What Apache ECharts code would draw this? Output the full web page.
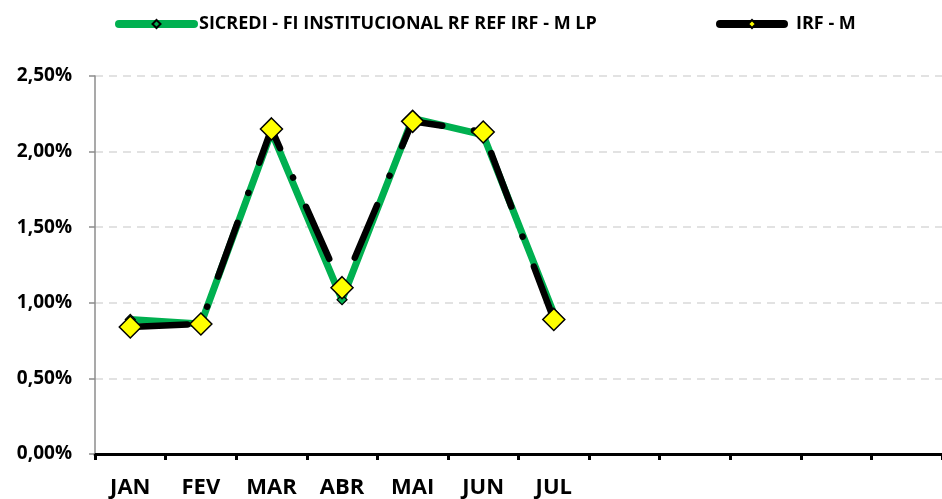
<!DOCTYPE html>
<html>
<head>
<meta charset="utf-8">
<script src="https://cdn.jsdelivr.net/npm/echarts@6/dist/echarts.min.js"></script>
<style>
  html, body { margin: 0; padding: 0; background: #ffffff; }
  #chart { width: 942px; height: 499px; }
</style>
</head>
<body>
<div id="chart"></div>
<script>
const months = ['JAN', 'FEV', 'MAR', 'ABR', 'MAI', 'JUN', 'JUL', '', '', '', '', ''];
const fundName = 'SICREDI - FI INSTITUCIONAL RF REF IRF - M LP';
const benchName = 'IRF - M';
const fundValues = [0.89, 0.86, 2.13, 1.02, 2.22, 2.11, 0.93];
const benchValues = [0.84, 0.86, 2.15, 1.10, 2.20, 2.13, 0.89];
const yMin = 0, yMax = 2.5, yStep = 0.5;

const FONT = '"Open Sans"';
const chart = echarts.init(document.getElementById('chart'));
chart.setOption({
  animation: false,
  backgroundColor: '#ffffff',
  textStyle: { fontFamily: FONT },
  legend: [
    {
      left: 115, top: 15, padding: 0,
      data: [fundName],
      itemWidth: 75, itemHeight: 10,
      lineStyle: { width: 8, cap: 'round' },
      textStyle: { fontFamily: FONT, fontWeight: 'bold', fontSize: 18, color: '#000' }
    },
    {
      left: 716, top: 15, padding: 0,
      data: [benchName],
      itemWidth: 64, itemHeight: 10,
      lineStyle: { type: 'solid', width: 8, cap: 'round' },
      textStyle: { fontFamily: FONT, fontWeight: 'bold', fontSize: 18, color: '#000', padding: [0, 0, 0, 7] }
    }
  ],
  grid: { left: 95, right: 0, top: 76, bottom: 45, containLabel: false },
  xAxis: {
    type: 'category',
    data: months,
    boundaryGap: true,
    axisLine: { show: true, lineStyle: { color: '#000', width: 3 } },
    axisTick: { show: true, length: 6, lineStyle: { color: '#000', width: 3 } },
    axisLabel: { interval: 0, margin: 23, fontFamily: FONT, fontWeight: 'bold', fontSize: 22, color: '#000' },
    splitLine: { show: false }
  },
  yAxis: {
    type: 'value',
    min: yMin, max: yMax, interval: yStep,
    axisLine: { show: true, lineStyle: { color: '#8c8c8c', width: 1.5 } },
    axisTick: { show: true, inside: false, length: 6, lineStyle: { color: '#8c8c8c', width: 1.5 } },
    axisLabel: {
      margin: 23, fontFamily: FONT, fontWeight: 'bold', fontSize: 19, color: '#000',
      formatter: v => v.toFixed(2).replace('.', ',') + '%'
    },
    splitLine: { show: true, lineStyle: { color: '#d9d9d9', width: 1.5, type: [8, 6] } }
  },
  series: [
    {
      name: fundName,
      type: 'line',
      data: fundValues,
      smooth: false,
      z: 2,
      symbol: 'diamond',
      symbolSize: 10,
      showAllSymbol: true,
      lineStyle: { color: '#00b050', width: 7, cap: 'round', join: 'round' },
      itemStyle: { color: '#00b050', borderColor: '#000', borderWidth: 1.2 }
    },
    {
      name: benchName,
      type: 'line',
      data: benchValues,
      smooth: false,
      z: 3,
      symbol: 'diamond',
      symbolSize: 22,
      showAllSymbol: true,
      lineStyle: { color: '#000', width: 6.5, type: [57, 32, 0.1, 32], cap: 'round', join: 'round' },
      itemStyle: { color: '#ffff00', borderColor: '#000', borderWidth: 1.5 }
    }
  ]
});
</script>
</body>
</html>
